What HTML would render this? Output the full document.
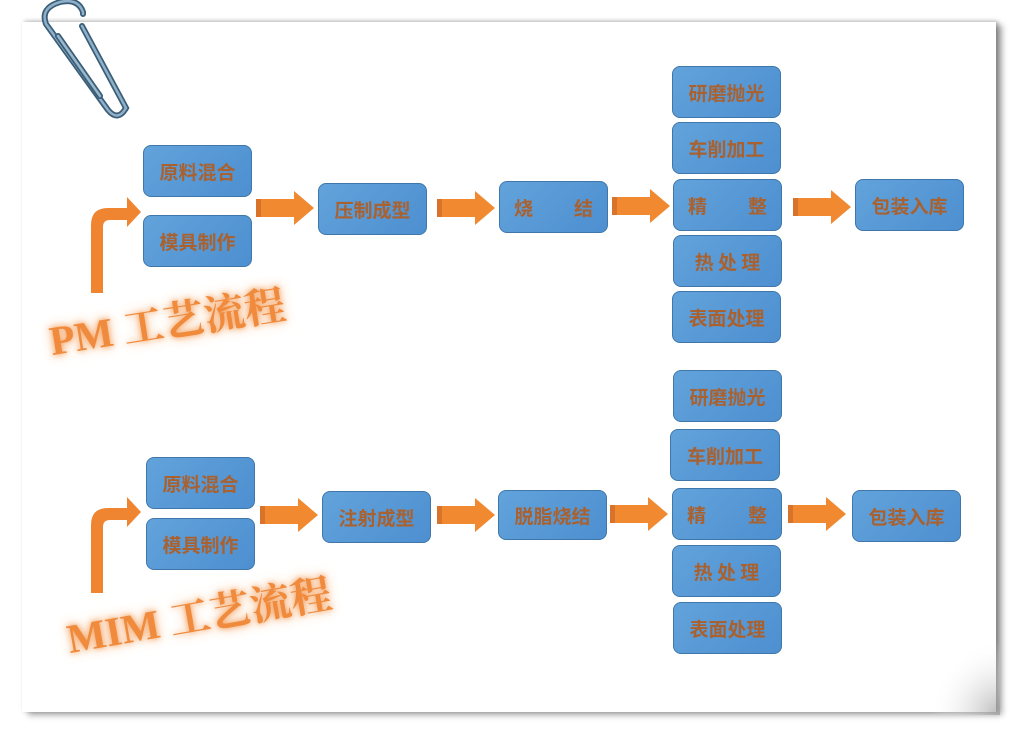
<!DOCTYPE html>
<html><head><meta charset="utf-8">
<style>
html,body{margin:0;padding:0;background:#fff;}
body{width:1018px;height:734px;position:relative;overflow:hidden;font-family:"Liberation Sans","Noto Sans CJK SC",sans-serif;}
.paper{position:absolute;left:22px;top:22px;width:974px;height:690px;background:#fff;box-shadow:2px -1px 4px rgba(0,0,0,.25),6px 3px 6px rgba(0,0,0,.35);}
.b{position:absolute;box-sizing:border-box;background:linear-gradient(135deg,#62a3db,#4d8fd0);border:1.5px solid #3f77ab;border-radius:8px;color:#a9612f;font-weight:bold;font-size:19px;display:flex;align-items:center;justify-content:center;font-family:"Noto Sans CJK SC",sans-serif;}
.sp{justify-content:space-between;padding:0 14px;}
.t{position:absolute;color:#f08a3c;font-family:"Liberation Serif","Noto Serif CJK SC",serif;font-weight:bold;font-size:41px;text-shadow:0 0 6px #f3a060,0 0 12px #f7b47c;white-space:nowrap;transform-origin:left bottom;}
svg{position:absolute;left:0;top:0;}
</style></head><body>
<div class="paper"></div>
<svg width="1018" height="734">
<defs>
<g id="ar"><rect x="0" y="-9" width="5" height="18" fill="#d9722a"/><rect x="5" y="-9" width="35" height="18" fill="#f0892f"/><polygon points="38,-17 58,0 38,17" fill="#f0892f"/></g>
<g id="bent"><path d="M0,0 L0,-68 Q0,-85 17,-85 L36,-85 L36,-96 L50,-81 L36,-66 L36,-73 L19,-73 Q12,-73 12,-66 L12,0 Z" fill="#ef8530"/></g>
<radialGradient id="curl" cx="1" cy="1" r="1"><stop offset="0" stop-color="#999" stop-opacity=".7"/><stop offset="1" stop-color="#fff" stop-opacity="0"/></radialGradient>
</defs>
<rect x="930" y="640" width="70" height="75" fill="url(#curl)"/>
<use href="#ar" x="256" y="208"/>
<use href="#ar" x="437" y="208"/>
<use href="#ar" x="612" y="206"/>
<use href="#ar" x="793" y="207"/>
<use href="#ar" x="260" y="515"/>
<use href="#ar" x="437" y="515"/>
<use href="#ar" x="610" y="514"/>
<use href="#ar" x="788" y="514"/>
<use href="#bent" x="91" y="293"/>
<use href="#bent" x="91" y="593"/>
<g fill="none" stroke-linecap="round">
<path d="M83,14 L83,12 Q78,-2 60,2 Q40,8 46,24 L108,110 Q118,122 126,108 L82,26" stroke="#3a5d78" stroke-width="6"/>
<path d="M83,14 L83,12 Q78,-2 60,2 Q40,8 46,24 L108,110 Q118,122 126,108 L82,26" stroke="#8fb0c8" stroke-width="2.5"/>
<path d="M58,36 L100,96" stroke="#3a5d78" stroke-width="6"/>
<path d="M58,36 L100,96" stroke="#9ab8cc" stroke-width="2.5"/>
</g>
</svg>
<div class="b" style="left:143px;top:145px;width:109px;height:52px">原料混合</div>
<div class="b" style="left:143px;top:215px;width:109px;height:52px">模具制作</div>
<div class="b" style="left:318px;top:183px;width:109px;height:52px">压制成型</div>
<div class="b sp" style="left:499px;top:181px;width:109px;height:52px"><span>烧</span><span>结</span></div>
<div class="b" style="left:672px;top:66px;width:109px;height:52px">研磨抛光</div>
<div class="b" style="left:672px;top:122px;width:109px;height:52px">车削加工</div>
<div class="b sp" style="left:673px;top:179px;width:109px;height:52px"><span>精</span><span>整</span></div>
<div class="b" style="left:673px;top:235px;width:109px;height:52px">热&nbsp;处&nbsp;理</div>
<div class="b" style="left:672px;top:291px;width:109px;height:52px">表面处理</div>
<div class="b" style="left:855px;top:179px;width:109px;height:52px">包装入库</div>

<div class="b" style="left:146px;top:457px;width:109px;height:52px">原料混合</div>
<div class="b" style="left:146px;top:518px;width:109px;height:52px">模具制作</div>
<div class="b" style="left:322px;top:491px;width:109px;height:52px">注射成型</div>
<div class="b" style="left:498px;top:490px;width:109px;height:50px">脱脂烧结</div>
<div class="b" style="left:673px;top:370px;width:109px;height:52px">研磨抛光</div>
<div class="b" style="left:670px;top:429px;width:110px;height:52px">车削加工</div>
<div class="b sp" style="left:672px;top:488px;width:110px;height:52px"><span>精</span><span>整</span></div>
<div class="b" style="left:672px;top:545px;width:109px;height:52px">热&nbsp;处&nbsp;理</div>
<div class="b" style="left:673px;top:602px;width:109px;height:52px">表面处理</div>
<div class="b" style="left:852px;top:490px;width:109px;height:52px">包装入库</div>

<div class="t" style="left:54px;top:308px;transform:rotate(-9deg)">PM 工艺流程</div>
<div class="t" style="left:72px;top:606px;transform:rotate(-10deg)">MIM 工艺流程</div>
</body></html>
